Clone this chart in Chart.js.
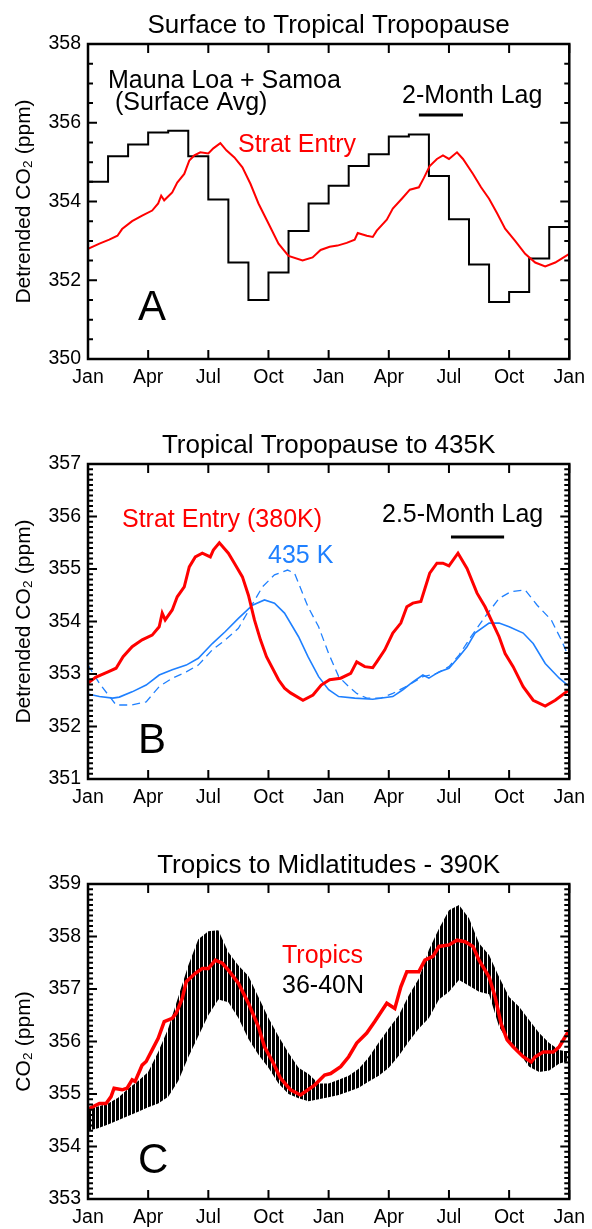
<!DOCTYPE html>
<html>
<head>
<meta charset="utf-8">
<script src="https://cdn.jsdelivr.net/npm/chart.js@4.4.1/dist/chart.umd.min.js"></script>
<style>
  body { margin: 0; background: #fff; overflow: hidden; }
  canvas { position: absolute; left: 0; display: block; }
</style>
</head>
<body>
<canvas id="chartA" width="592" height="420" style="top:0"></canvas>
<canvas id="chartB" width="592" height="420" style="top:420px"></canvas>
<canvas id="chartC" width="592" height="389" style="top:840px"></canvas>
<script>
const monthLabels = ['Jan', 'Apr', 'Jul', 'Oct'];

// A : Mauna Loa + Samoa monthly means (two years, Jan..Dec)
const surfaceAvgA = [354.5, 355.15, 355.45, 355.75, 355.8, 355.15, 354.05, 352.45, 351.5, 352.2, 353.25, 353.95,
                     354.4, 354.9, 355.2, 355.65, 355.7, 354.65, 353.55, 352.4, 351.45, 351.7, 352.55, 353.35];
// A : strat entry [month, ppm]
const stratEntryA = [[0, 352.8], [0.57, 352.93], [1.06, 353.03], [1.47, 353.13], [1.7, 353.3], [2.2, 353.5],
  [2.7, 353.64], [3.2, 353.77], [3.5, 353.95], [3.65, 354.15], [3.8, 354.03], [4.2, 354.23], [4.45, 354.48],
  [4.8, 354.7], [5.05, 355.04], [5.3, 355.17], [5.6, 355.25], [6.0, 355.22], [6.25, 355.35], [6.6, 355.48],
  [6.9, 355.3], [7.3, 355.12], [7.7, 354.87], [8.1, 354.45], [8.5, 353.95], [9.0, 353.44], [9.5, 352.93],
  [10.0, 352.62], [10.7, 352.5], [11.2, 352.58], [11.6, 352.77], [12.05, 352.85], [12.44, 352.88], [12.9, 352.95],
  [13.3, 353.03], [13.45, 353.2], [13.9, 353.13], [14.2, 353.1], [14.4, 353.26], [14.9, 353.54], [15.2, 353.82],
  [15.65, 354.07], [16.05, 354.3], [16.5, 354.36], [16.75, 354.6], [17.04, 354.9], [17.4, 355.08], [17.7, 355.17],
  [18.0, 355.08], [18.4, 355.25], [18.7, 355.08], [19.2, 354.7], [19.6, 354.36], [20.0, 354.07], [20.4, 353.7],
  [20.8, 353.31], [21.3, 353.0], [21.8, 352.67], [22.3, 352.45], [22.8, 352.35], [23.3, 352.45], [24, 352.67]];

// B : strat entry (380K), 435 K, and 435 K shifted
const stratEntryB = [[0, 352.83], [0.4, 352.94], [1.0, 353.04], [1.4, 353.11], [1.75, 353.33], [2.2, 353.52],
  [2.7, 353.65], [3.2, 353.74], [3.55, 353.9], [3.7, 354.16], [3.85, 354.03], [4.2, 354.22], [4.45, 354.47],
  [4.8, 354.66], [5.05, 355.04], [5.35, 355.23], [5.7, 355.3], [6.1, 355.23], [6.25, 355.36], [6.55, 355.5],
  [7.0, 355.3], [7.3, 355.11], [7.7, 354.85], [8.0, 354.5], [8.3, 354.03], [8.6, 353.65], [8.9, 353.33],
  [9.5, 352.89], [9.8, 352.73], [10.1, 352.64], [10.72, 352.5], [11.22, 352.6], [11.63, 352.79], [12.05, 352.89],
  [12.6, 352.92], [13.1, 353.01], [13.4, 353.23], [13.8, 353.14], [14.2, 353.12], [14.4, 353.23], [14.8, 353.46],
  [15.2, 353.78], [15.6, 353.97], [15.9, 354.28], [16.2, 354.35], [16.6, 354.38], [17.04, 354.92], [17.4, 355.11],
  [17.7, 355.11], [18.0, 355.06], [18.45, 355.3], [18.9, 355.01], [19.4, 354.54], [19.8, 354.28], [20.5, 353.71],
  [20.8, 353.39], [21.2, 353.14], [21.7, 352.76], [22.2, 352.5], [22.8, 352.39], [23.3, 352.5], [24, 352.7]];
const k435B = [[0, 352.62], [0.57, 352.57], [1.23, 352.54], [1.56, 352.56], [2.2, 352.66], [2.9, 352.79],
  [3.55, 352.98], [4.2, 353.08], [4.9, 353.17], [5.5, 353.3], [6.2, 353.58], [6.85, 353.81], [7.5, 354.06],
  [8.2, 354.31], [8.8, 354.41], [9.3, 354.35], [9.8, 354.16], [10.5, 353.71], [10.97, 353.33], [11.5, 352.95],
  [12, 352.7], [12.5, 352.57], [13.3, 352.54], [14.2, 352.52], [15.2, 352.57], [15.7, 352.7], [16.2, 352.85],
  [16.7, 352.98], [17.0, 352.92], [17.5, 353.04], [18.0, 353.11], [18.5, 353.33], [18.9, 353.52], [19.3, 353.78],
  [20, 353.97], [20.5, 353.97], [21, 353.9], [21.7, 353.78], [22.2, 353.58], [22.8, 353.2], [23.5, 352.92], [24, 352.76]];
const k435LagB = [[0, 353.17], [0.57, 352.82], [1.4, 352.41], [2.2, 352.41], [2.9, 352.47], [3.55, 352.76],
  [4.2, 352.92], [4.9, 353.04], [5.5, 353.17], [6.2, 353.46], [6.85, 353.65], [7.5, 353.87], [8.2, 354.33],
  [8.7, 354.66], [9.3, 354.89], [9.95, 354.98], [10.3, 354.92], [10.97, 354.28], [11.5, 353.9], [12, 353.39],
  [12.5, 352.95], [13, 352.76], [13.4, 352.63], [13.9, 352.54], [14.6, 352.54], [15.2, 352.63], [16.0, 352.79],
  [16.7, 352.95], [17.4, 353.01], [18, 353.14], [18.5, 353.36], [19.1, 353.71], [19.8, 354.09], [20.5, 354.44],
  [21.1, 354.57], [21.8, 354.6], [22.4, 354.31], [23.1, 354.03], [23.6, 353.65], [24, 353.3]];

// C : tropics line and 36-40N spread [month, low, high]
const tropicsC = [[0, 354.71], [0.57, 354.82], [0.9, 354.82], [1.15, 354.95], [1.3, 355.11], [1.7, 355.08],
  [1.95, 355.11], [2.2, 355.27], [2.35, 355.24], [2.7, 355.55], [2.9, 355.62], [3.2, 355.84], [3.5, 356.06],
  [3.8, 356.38], [4.2, 356.44], [4.4, 356.54], [4.7, 356.82], [4.9, 357.14], [5.35, 357.3], [5.7, 357.39],
  [6.0, 357.39], [6.35, 357.55], [6.7, 357.49], [7.0, 357.36], [7.5, 357.11], [8.0, 356.73], [8.5, 356.28],
  [8.8, 355.9], [9.2, 355.62], [9.6, 355.3], [10.1, 355.08], [10.6, 354.98], [11.3, 355.17], [11.8, 355.36],
  [12.1, 355.39], [12.6, 355.52], [13.0, 355.71], [13.4, 355.97], [13.9, 356.16], [14.3, 356.38], [14.9, 356.73],
  [15.3, 356.63], [15.6, 357.04], [15.9, 357.33], [16.5, 357.33], [16.8, 357.55], [17.2, 357.62], [17.5, 357.81],
  [18, 357.84], [18.4, 357.93], [18.8, 357.9], [19.2, 357.81], [19.5, 357.55], [20.0, 357.23], [20.3, 356.85],
  [20.6, 356.34], [20.9, 356.03], [21.2, 355.9], [21.7, 355.71], [22.1, 355.61], [22.3, 355.71], [22.7, 355.8],
  [23.2, 355.8], [23.5, 355.9], [24, 356.22]];
const midlatC = [[0, 354.3, 354.7], [0.5, 354.35, 354.76], [1, 354.42, 354.82], [1.5, 354.5, 354.93],
  [2, 354.58, 355.1], [2.5, 354.66, 355.25], [3, 354.75, 355.42], [3.5, 354.82, 355.8], [4, 354.95, 356.25],
  [4.5, 355.25, 356.85], [5, 355.7, 357.45], [5.5, 356.1, 357.95], [6, 356.5, 358.1], [6.5, 356.8, 358.12],
  [7, 356.75, 357.7], [7.5, 356.45, 357.45], [8, 356.05, 357.25], [8.5, 355.75, 356.85], [9, 355.5, 356.45],
  [9.5, 355.2, 356.1], [10, 355.0, 355.78], [10.5, 354.92, 355.5], [11, 354.86, 355.38], [11.5, 354.9, 355.2],
  [12, 354.94, 355.2], [12.5, 354.98, 355.27], [13, 355.05, 355.35], [13.5, 355.12, 355.48], [14, 355.24, 355.7],
  [14.5, 355.35, 355.98], [15, 355.5, 356.25], [15.5, 355.73, 356.5], [16, 356.0, 356.88], [16.5, 356.25, 357.2],
  [17, 356.45, 357.75], [17.5, 356.8, 358.15], [18, 356.95, 358.5], [18.5, 357.17, 358.6], [19, 357.06, 358.35],
  [19.5, 356.95, 357.87], [20, 356.9, 357.65], [20.5, 356.28, 357.23], [21, 355.97, 356.85], [21.5, 355.78, 356.66],
  [22, 355.52, 356.41], [22.5, 355.42, 356.16], [23, 355.45, 355.97], [23.5, 355.58, 355.84], [24, 355.63, 355.8]];

const FONT = "'Liberation Sans', Arial, Helvetica, sans-serif";
Chart.defaults.font.family = FONT;
Chart.defaults.color = '#000';

const toPoints = pairs => pairs.map(p => ({ x: p[0], y: p[1] }));

// vertical streak texture for the 36-40N spread
function streakPattern() {
  const c = document.createElement('canvas');
  c.width = 4; c.height = 2;
  const g = c.getContext('2d');
  g.fillStyle = '#000';
  g.fillRect(0, 0, 3, 2);
  return g.createPattern(c, 'repeat');
}

// box + inward ticks on all four sides, IDL style
function framePlugin(minor, major) {
  return {
    id: 'frame',
    afterDatasetsDraw(chart) {
      const { ctx, chartArea: a, scales: { x, y } } = chart;
      ctx.save();
      ctx.strokeStyle = '#000';
      ctx.lineWidth = 2;
      ctx.beginPath();
      for (let m = 0; m <= 24; m += 3) {
        const px = x.getPixelForValue(m);
        ctx.moveTo(px, a.bottom); ctx.lineTo(px, a.bottom - 9);
        ctx.moveTo(px, a.top); ctx.lineTo(px, a.top + 9);
      }
      const n = Math.round((y.max - y.min) / minor);
      for (let i = 0; i <= n; i++) {
        const v = y.min + i * minor;
        const isMajor = Math.abs(v / major - Math.round(v / major)) < 1e-6;
        const len = isMajor ? 9 : 5;
        const py = y.getPixelForValue(v);
        ctx.moveTo(a.left, py); ctx.lineTo(a.left + len, py);
        ctx.moveTo(a.right, py); ctx.lineTo(a.right - len, py);
      }
      ctx.stroke();
      ctx.lineWidth = 2.5;
      ctx.strokeRect(a.left, a.top, a.right - a.left, a.bottom - a.top);
      ctx.restore();
    }
  };
}

// title, labels inside the plot, lag bar
function notesPlugin(title, notes, lag) {
  return {
    id: 'notes',
    afterDraw(chart) {
      const { ctx, chartArea: a, scales: { x } } = chart;
      ctx.save();
      ctx.fillStyle = '#000';
      ctx.textAlign = 'center';
      ctx.textBaseline = 'alphabetic';
      ctx.font = '26px ' + FONT;
      ctx.fillText(title, (a.left + a.right) / 2, 33);
      ctx.textAlign = 'left';
      notes.forEach(n => {
        ctx.font = n.size + 'px ' + FONT;
        ctx.fillStyle = n.color || '#000';
        ctx.fillText(n.text, n.x, n.y);
      });
      if (lag) {
        ctx.strokeStyle = '#000';
        ctx.lineWidth = 3;
        ctx.beginPath();
        ctx.moveTo(x.getPixelForValue(lag.from), lag.y);
        ctx.lineTo(x.getPixelForValue(lag.to), lag.y);
        ctx.stroke();
      }
      ctx.restore();
    }
  };
}

function makeChart(id, cfg) {
  const canvas = document.getElementById(id);
  return new Chart(canvas, {
    type: 'line',
    data: { datasets: cfg.datasets },
    options: {
      responsive: false,
      animation: false,
      devicePixelRatio: 1,
      layout: { padding: { top: 44, right: 18, left: 0, bottom: 0 } },
      plugins: { legend: { display: false }, tooltip: { enabled: false } },
      elements: { point: { radius: 0 }, line: { tension: 0 } },
      scales: {
        x: {
          type: 'linear', min: 0, max: 24, offset: false,
          ticks: {
            stepSize: 3, padding: 7, font: { size: 19.5 }, color: '#000',
            maxRotation: 0, autoSkip: false,
            callback: v => monthLabels[(v / 3) % 4]
          },
          grid: { display: false, drawTicks: false },
          border: { display: false },
          afterFit: s => { s.height = canvas.height - 359; }
        },
        y: {
          min: cfg.yMin, max: cfg.yMax,
          ticks: { stepSize: cfg.major, padding: 7, font: { size: 19.5 }, color: '#000' },
          grid: { display: false, drawTicks: false },
          border: { display: false },
          title: {
            display: true, text: cfg.yTitle, color: '#000',
            font: { size: 21 }, padding: { top: 12, bottom: 0 }
          },
          afterFit: s => { s.width = 88; }
        }
      }
    },
    plugins: [framePlugin(cfg.minor, cfg.major), notesPlugin(cfg.title, cfg.notes, cfg.lag)]
  });
}

// Panel A
const surfacePts = surfaceAvgA.map((v, i) => ({ x: i, y: v }));
surfacePts.push({ x: surfaceAvgA.length, y: surfaceAvgA[surfaceAvgA.length - 1] });

makeChart('chartA', {
  title: 'Surface to Tropical Tropopause',
  yTitle: 'Detrended CO\u2082 (ppm)',
  yMin: 350, yMax: 358, major: 2, minor: 0.5,
  datasets: [
    { data: toPoints(stratEntryA), borderColor: '#ff0000', borderWidth: 2, order: 0 },
    { data: surfacePts, borderColor: '#000', borderWidth: 2, stepped: 'before', order: 1 }
  ],
  notes: [
    { text: 'Mauna Loa + Samoa', x: 108, y: 88, size: 25 },
    { text: '(Surface Avg)', x: 115, y: 110, size: 25 },
    { text: 'Strat Entry', x: 238, y: 152, size: 25, color: '#ff0000' },
    { text: '2-Month Lag', x: 402, y: 103, size: 25 },
    { text: 'A', x: 138, y: 320, size: 42 }
  ],
  lag: { from: 16.5, to: 18.7, y: 115 }
});

// Panel B
makeChart('chartB', {
  title: 'Tropical Tropopause to 435K',
  yTitle: 'Detrended CO\u2082 (ppm)',
  yMin: 351, yMax: 357, major: 1, minor: 0.1,
  datasets: [
    { data: toPoints(stratEntryB), borderColor: '#ff0000', borderWidth: 3, order: 0 },
    { data: toPoints(k435B), borderColor: '#1f80ff', borderWidth: 1.6, order: 1 },
    { data: toPoints(k435LagB), borderColor: '#1f80ff', borderWidth: 1.3, borderDash: [8, 5], order: 2 }
  ],
  notes: [
    { text: 'Strat Entry (380K)', x: 122, y: 107, size: 25, color: '#ff0000' },
    { text: '435 K', x: 268, y: 143, size: 25, color: '#1f80ff' },
    { text: '2.5-Month Lag', x: 382, y: 102, size: 25 },
    { text: 'B', x: 138, y: 333, size: 42 }
  ],
  lag: { from: 18.1, to: 20.75, y: 117 }
});

// Panel C
makeChart('chartC', {
  title: 'Tropics to Midlatitudes - 390K',
  yTitle: 'CO\u2082 (ppm)',
  yMin: 353, yMax: 359, major: 1, minor: 0.1,
  datasets: [
    { data: toPoints(tropicsC), borderColor: '#ff0000', borderWidth: 3.5, order: 0 },
    { data: midlatC.map(r => ({ x: r[0], y: r[1] })), borderColor: 'rgba(0,0,0,0)', borderWidth: 1, fill: false, order: 1 },
    {
      data: midlatC.map(r => ({ x: r[0], y: r[2] })), borderColor: 'rgba(0,0,0,0)', borderWidth: 1,
      fill: '-1', backgroundColor: streakPattern(), order: 2
    }
  ],
  notes: [
    { text: 'Tropics', x: 282, y: 123, size: 25, color: '#ff0000' },
    { text: '36-40N', x: 282, y: 153, size: 25 },
    { text: 'C', x: 138, y: 333, size: 42 }
  ],
  lag: null
});
</script>
</body>
</html>
